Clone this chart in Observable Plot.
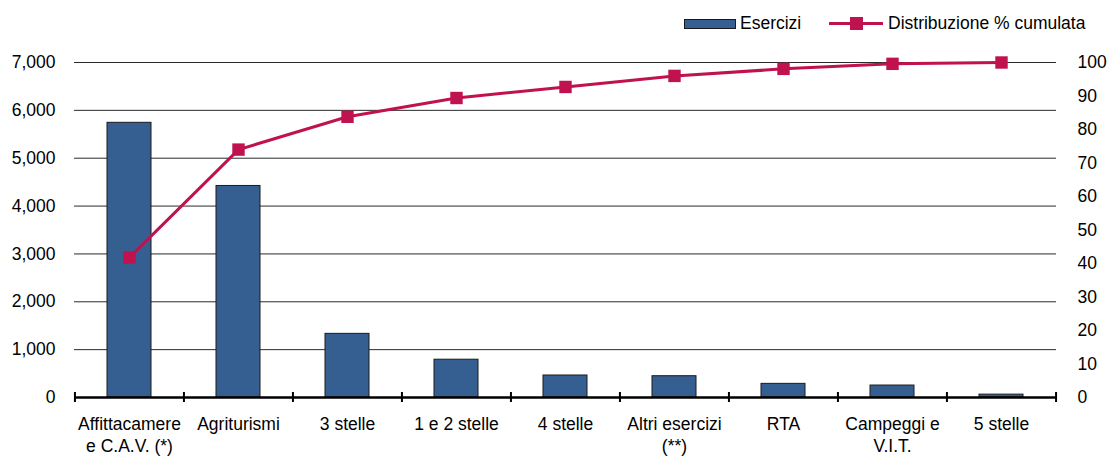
<!DOCTYPE html>
<html><head><meta charset="utf-8">
<script src="https://cdn.jsdelivr.net/npm/d3@7"></script>
<script src="https://cdn.jsdelivr.net/npm/@observablehq/plot@0.6"></script>
<style>
body{margin:0;background:#fff;font-family:"Liberation Sans",Arial,sans-serif;}
#wrap{position:relative;width:1107px;height:457px;}
#legend{position:relative;width:1107px;height:40px;font-size:17.5px;color:#000;}
.sw{position:absolute;}
.lt{position:absolute;top:13px;line-height:20px;white-space:nowrap;}
#chart svg{display:block;}
</style>
</head><body>
<div id="wrap">
  <div id="legend">
    <div class="sw" style="left:684px;top:19px;width:50px;height:8px;background:#365F91;border:1px solid #1b1b1b;"></div>
    <div class="lt" style="left:740px;">Esercizi</div>
    <div class="sw" style="left:829px;top:22px;width:54px;height:3px;background:#C0124F;"></div>
    <div class="sw" style="left:850px;top:17px;width:13px;height:13px;background:#C0124F;"></div>
    <div class="lt" style="left:888px;">Distribuzione % cumulata</div>
  </div>
  <div id="chart"></div>
</div>
<script>
const categories = ["Affittacamere\ne C.A.V. (*)", "Agriturismi", "3 stelle", "1 e 2 stelle", "4 stelle", "Altri esercizi\n(**)", "RTA", "Campeggi e\nV.I.T.", "5 stelle"];
const esercizi = [5740, 4420, 1330, 790, 460, 445, 285, 250, 60];
const cumulata = [41.8, 74.0, 83.8, 89.4, 92.7, 96.0, 98.1, 99.6, 100];
const leftTicks = [0, 1000, 2000, 3000, 4000, 5000, 6000, 7000];
const rightTicks = [0, 10, 20, 30, 40, 50, 60, 70, 80, 90, 100];

const data = categories.map((c, i) => ({cat: c, n: esercizi[i], p: cumulata[i]}));
const W = 1107, ML = 74, MR = 51;
const step = (W - ML - MR) / categories.length;
const pct = p => p * 70; // 100% on right axis ↔ 7,000 on left axis
const fontFamily = '"Liberation Sans",Arial,sans-serif';
const fmt = d3.format(",");

const chart = Plot.plot({
  width: W, height: 417,
  marginTop: 22, marginBottom: 60, marginLeft: ML, marginRight: MR,
  style: {fontFamily, fontSize: "17.5px", color: "#000", background: "white"},
  x: {domain: categories, paddingInner: 0.6, paddingOuter: 0.3, label: null},
  y: {domain: [0, 7000], label: null},
  marks: [
    Plot.ruleY(leftTicks.filter(d => d > 0), {stroke: "#2a2a2a", strokeWidth: 1}),
    Plot.barY(data, {x: "cat", y: "n", fill: "#365F91", stroke: "#1b1b1b", strokeWidth: 1}),
    Plot.ruleY([0], {stroke: "#000", strokeWidth: 2.5}),
    Plot.axisY({anchor: "left", ticks: leftTicks, tickFormat: fmt, tickSize: 0, tickPadding: 19, label: null}),
    Plot.axisY({anchor: "right", ticks: rightTicks.map(pct), tickFormat: d => String(Math.round(d / 70)), tickSize: 0, tickPadding: 21, label: null}),
    Plot.axisX({ticks: categories, tickSize: 0, tickPadding: 17, label: null, lineHeight: 1.25}),
    Plot.axisX({ticks: categories, tickSize: 10, dy: -5, dx: -step / 2, tickFormat: () => "", label: null, strokeWidth: 2}),
    Plot.axisX({ticks: [categories[categories.length - 1]], tickSize: 10, dy: -5, dx: step / 2, tickFormat: () => "", label: null, strokeWidth: 2}),
    Plot.line(data, {x: "cat", y: d => pct(d.p), stroke: "#C0124F", strokeWidth: 3}),
    Plot.dot(data, {x: "cat", y: d => pct(d.p), symbol: "square", r: 7, fill: "#C0124F", stroke: "none"})
  ]
});
document.getElementById("chart").appendChild(chart);
</script>
</body></html>
